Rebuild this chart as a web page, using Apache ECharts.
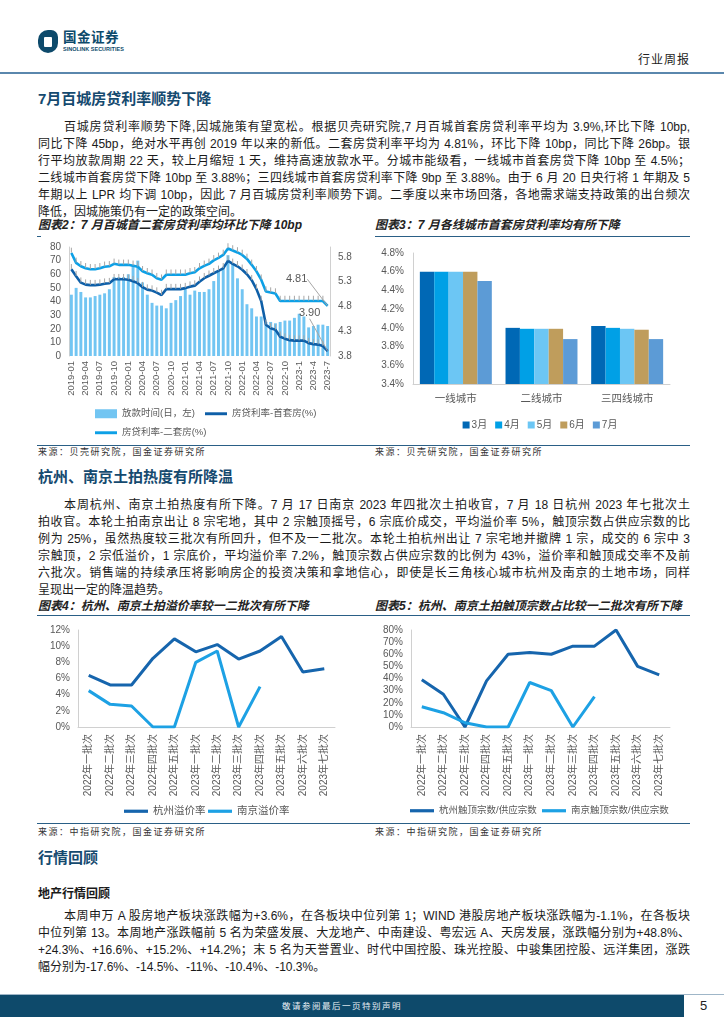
<!DOCTYPE html>
<html><head><meta charset="utf-8">
<script src="https://cdn.jsdelivr.net/npm/echarts@6/dist/echarts.min.js"></script>
<style>
body{margin:0;width:724px;height:1024px;position:relative;background:#fff;font-family:"Liberation Sans","Noto Sans CJK SC",sans-serif;overflow:hidden;color:#1a1a1a}
.a{position:absolute}
.p{position:absolute;left:38px;width:652px;font-size:12px;line-height:17px;height:17px;text-align:justify;text-align-last:justify;overflow:hidden}
.p.i{left:64px;width:626px}
.p.l{text-align-last:left}
.h{position:absolute;left:38px;font-size:15px;font-weight:bold;color:#154a6f;line-height:20px}
.ct{position:absolute;font-size:12px;font-style:italic;font-weight:bold;color:#222;line-height:14px;white-space:nowrap}
.src{position:absolute;font-size:9px;letter-spacing:1.5px;color:#333;line-height:11px;white-space:nowrap}
.ln{position:absolute;height:1px;background:#2a5f86}
.ch{position:absolute}
</style></head><body>
<!-- header -->
<div class="a" style="left:38px;top:30px;width:20px;height:23px;background:#0d4a6b;border-radius:10px 7px 10px 10px"></div>
<div class="a" style="left:44px;top:37px;width:8px;height:10px;background:#fff;border-radius:1px"></div>
<div class="a" style="left:63px;top:30px;font-size:13.5px;font-weight:bold;color:#0d4a6b;letter-spacing:0.5px;line-height:16px">国金证券</div>
<div class="a" style="left:63px;top:46px;font-size:5.5px;font-weight:bold;color:#0d4a6b;line-height:7px;white-space:nowrap">SINOLINK SECURITIES</div>
<div class="a" style="left:638px;top:53px;font-size:12px;color:#222;letter-spacing:1px;line-height:14px">行业周报</div>
<div class="a" style="left:0;top:72px;width:724px;height:2px;background:#5a87ad"></div>

<div class="h" style="top:89px">7月百城房贷利率顺势下降</div>
<div class="p i" style="top:119px">百城房贷利率顺势下降,因城施策有望宽松。根据贝壳研究院,7 月百城首套房贷利率平均为 3.9%,环比下降 10bp,</div>
<div class="p" style="top:136px">同比下降 45bp，绝对水平再创 2019 年以来的新低。二套房贷利率平均为 4.81%，环比下降 10bp，同比下降 26bp。银</div>
<div class="p" style="top:153px">行平均放款周期 22 天，较上月缩短 1 天，维持高速放款水平。分城市能级看，一线城市首套房贷下降 10bp 至 4.5%；</div>
<div class="p" style="top:170px">二线城市首套房贷下降 10bp 至 3.88%；三四线城市首套房贷利率下降 9bp 至 3.88%。由于 6 月 20 日央行将 1 年期及 5</div>
<div class="p" style="top:187px">年期以上 LPR 均下调 10bp，因此 7 月百城房贷利率顺势下调。二季度以来市场回落，各地需求端支持政策的出台频次</div>
<div class="p l" style="top:204px">降低，因城施策仍有一定的政策空间。</div>

<div class="ct" style="left:38px;top:218px">图表2：7 月百城首二套房贷利率均环比下降 10bp</div>
<div class="ct" style="left:375px;top:218px">图表3：7 月各线城市首套房贷利率均有所下降</div>
<div class="ln" style="left:37px;top:236px;width:4px"></div>
<div class="ln" style="left:375px;top:236px;width:315px"></div>
<div id="c2" class="ch" style="left:30px;top:240px;width:340px;height:200px"></div>
<div id="c3" class="ch" style="left:370px;top:240px;width:340px;height:200px"></div>
<div class="ln" style="left:37px;top:445px;width:653px"></div>
<div class="src" style="left:38px;top:447px">来源：贝壳研究院，国金证券研究所</div>
<div class="src" style="left:375px;top:447px">来源：贝壳研究院，国金证券研究所</div>

<div class="h" style="top:467px">杭州、南京土拍热度有所降温</div>
<div class="p i" style="top:497px">本周杭州、南京土拍热度有所下降。7 月 17 日南京 2023 年四批次土拍收官，7 月 18 日杭州 2023 年七批次土</div>
<div class="p" style="top:514px">拍收官。本轮土拍南京出让 8 宗宅地，其中 2 宗触顶摇号，6 宗底价成交，平均溢价率 5%，触顶宗数占供应宗数的比</div>
<div class="p" style="top:531px">例为 25%，虽然热度较三批次有所回升，但不及一二批次。本轮土拍杭州出让 7 宗宅地并撤牌 1 宗，成交的 6 宗中 3</div>
<div class="p" style="top:548px">宗触顶，2 宗低溢价，1 宗底价，平均溢价率 7.2%，触顶宗数占供应宗数的比例为 43%，溢价率和触顶成交率不及前</div>
<div class="p" style="top:565px">六批次。销售端的持续承压将影响房企的投资决策和拿地信心，即使是长三角核心城市杭州及南京的土地市场，同样</div>
<div class="p l" style="top:582px">呈现出一定的降温趋势。</div>

<div class="ct" style="left:38px;top:599px">图表4：杭州、南京土拍溢价率较一二批次有所下降</div>
<div class="ct" style="left:375px;top:599px">图表5：杭州、南京土拍触顶宗数占比较一二批次有所下降</div>
<div class="ln" style="left:37px;top:615px;width:653px"></div>
<div id="c4" class="ch" style="left:30px;top:618px;width:340px;height:202px"></div>
<div id="c5" class="ch" style="left:370px;top:618px;width:340px;height:202px"></div>
<div class="ln" style="left:37px;top:823px;width:653px"></div>
<div class="src" style="left:38px;top:827px">来源：中指研究院，国金证券研究所</div>
<div class="src" style="left:375px;top:827px">来源：中指研究院，国金证券研究所</div>

<div class="h" style="top:848px">行情回顾</div>
<div class="a" style="left:38px;top:886px;font-size:12px;font-weight:bold;line-height:16px">地产行情回顾</div>
<div class="p i" style="top:908px">本周申万 A 股房地产板块涨跌幅为+3.6%，在各板块中位列第 1；WIND 港股房地产板块涨跌幅为-1.1%，在各板块</div>
<div class="p" style="top:925px">中位列第 13。本周地产涨跌幅前 5 名为荣盛发展、大龙地产、中南建设、粤宏远 A、天房发展，涨跌幅分别为+48.8%、</div>
<div class="p" style="top:942px">+24.3%、+16.6%、+15.2%、+14.2%；末 5 名为天誉置业、时代中国控股、珠光控股、中骏集团控股、远洋集团，涨跌</div>
<div class="p l" style="top:959px">幅分别为-17.6%、-14.5%、-11%、-10.4%、-10.3%。</div>

<div class="a" style="left:0;top:994px;width:724px;height:1px;background:#9fb6c8"></div>
<div class="a" style="left:0;top:995px;width:684px;height:22px;background:#0e4a6b"></div>
<div class="a" style="left:0;top:1000px;width:684px;text-align:center;font-size:8.5px;letter-spacing:1.5px;color:#e8eef3;line-height:12px">敬请参阅最后一页特别声明</div>
<div class="a" style="left:700px;top:998px;font-size:13px;color:#222;line-height:16px">5</div>

<script>
// ---------- Chart 2 data ----------
var months = ["2019-01","2019-02","2019-03","2019-04","2019-05","2019-06","2019-07","2019-08","2019-09","2019-10","2019-11","2019-12",
"2020-01","2020-02","2020-03","2020-04","2020-05","2020-06","2020-07","2020-08","2020-09","2020-10","2020-11","2020-12",
"2021-01","2021-02","2021-03","2021-04","2021-05","2021-06","2021-07","2021-08","2021-09","2021-10","2021-11","2021-12",
"2022-01","2022-02","2022-03","2022-04","2022-05","2022-06","2022-07","2022-08","2022-09","2022-10","2022-11","2022-12",
"2023-1","2023-2","2023-3","2023-4","2023-5","2023-6","2023-7"];
var loanDays = [45,50,47,43,43,44,45,46,49,58,58,58,60,67,70,54,45,39,37,37,35,39,41,44,50,45,48,47,47,49,55,62,65,74,68,57,49,38,35,29,29,25,25,24,25,26,26,28,31,29,21,22,23,23,22];
var firstRate = [5.55,5.41,5.28,5.24,5.23,5.23,5.24,5.26,5.27,5.35,5.35,5.35,5.34,5.31,5.27,5.19,5.14,5.12,5.08,5.03,5.15,5.15,5.15,5.15,5.17,5.20,5.22,5.30,5.37,5.42,5.47,5.52,5.57,5.72,5.66,5.61,5.54,5.45,5.33,5.15,4.91,4.43,4.36,4.33,4.19,4.15,4.12,4.11,4.11,4.11,4.06,4.04,4.03,4.00,3.90];
var secondRate = [5.88,5.68,5.61,5.57,5.55,5.55,5.57,5.60,5.61,5.66,5.64,5.64,5.64,5.62,5.60,5.51,5.47,5.44,5.37,5.34,5.44,5.44,5.44,5.44,5.44,5.47,5.49,5.57,5.62,5.66,5.73,5.78,5.84,5.97,5.93,5.89,5.84,5.76,5.64,5.51,5.34,5.10,5.08,5.06,4.91,4.91,4.91,4.91,4.91,4.91,4.91,4.91,4.91,4.91,4.81];
var leftTicks = {min:0, max:80, interval:10};
var rightTicks = {min:3.8, max:6.0, interval:0.5};

// ---------- Chart 3 data ----------
var cityTiers = ["一线城市","二线城市","三四线城市"];
var monthNames = ["3月","4月","5月","6月","7月"];
var tierRates = [
  [4.60, 4.00, 4.02],
  [4.60, 3.99, 4.00],
  [4.60, 3.99, 3.99],
  [4.60, 3.99, 3.98],
  [4.50, 3.88, 3.88]
];

// ---------- Chart 4/5 data ----------
var batches = ["2022年一批次","2022年二批次","2022年三批次","2022年四批次","2022年五批次","2023年一批次","2023年二批次","2023年三批次","2023年四批次","2023年五批次","2023年六批次","2023年七批次"];
var hzPremium = [6.4,5.2,5.2,8.5,10.9,9.3,10.2,8.4,9.4,11.2,6.8,7.2];
var njPremium = [4.5,2.8,2.6,0,0,8.0,9.4,0,5.0,null,null,null];
var hzCapped = [39,27,0,38,60,61.5,60,66.7,66.7,80,50,43];
var njCapped = [16.7,11.8,3.5,0,0,36.7,30,0,25,null,null,null];

var FONT = "Liberation Sans, Noto Sans CJK SC, sans-serif";
var GRAY = "#595959";
var AXIS = {lineStyle:{color:"#d0d0d0"}};
var LINEICON = "path://M0,0 H30 V4 H0 Z";

function oneLegend(name, icon, left, top, w, h, fs){
  return {left:left, top:top, itemWidth:w, itemHeight:h, textStyle:{fontSize:fs,color:GRAY,fontFamily:FONT},
          data:[{name:name, icon:icon}]};
}

// Chart 2
var c2 = echarts.init(document.getElementById('c2'));
var last = months.length - 1;
function endLabel(dx, dy){
  return function(p){ return p.dataIndex === last ? {dx:dx, dy:dy} : {}; };
}
function endFmt(p){ return p.dataIndex === last ? Number(p.value).toFixed(2) : ""; }
c2.setOption({
  animation:false,
  textStyle:{fontFamily:FONT},
  grid:{left:39,right:40,top:7,bottom:84},
  legend:[
    oneLegend("放款时间(日，左)","rect",60,164,22,9,9.5),
    oneLegend("房贷利率-首套房(%)",LINEICON,170,164,22,9,9.5),
    oneLegend("房贷利率-二套房(%)",LINEICON,60,183,22,9,9.5)
  ],
  xAxis:{type:"category",data:months,axisLine:{show:false},axisTick:{show:false},
    axisLabel:{interval:2,rotate:90,fontSize:9.5,color:GRAY,margin:5,fontFamily:FONT}},
  yAxis:[
    {type:"value",min:leftTicks.min,max:leftTicks.max,interval:leftTicks.interval,splitLine:{show:false},
     axisLine:{show:true,lineStyle:{color:"#d0d0d0"}},axisLabel:{fontSize:10,color:GRAY,margin:8,fontFamily:FONT}},
    {type:"value",min:rightTicks.min,max:rightTicks.max,interval:rightTicks.interval,splitLine:{show:false},
     axisLine:{show:true,lineStyle:{color:"#d0d0d0"}},axisLabel:{fontSize:10,color:GRAY,margin:8,showMaxLabel:false,fontFamily:FONT,
     formatter:function(v){return v.toFixed(1);}}}
  ],
  series:[
    {name:"放款时间(日，左)",type:"bar",data:loanDays,barCategoryGap:"38%",itemStyle:{color:"#72c5f2"}},
    {name:"房贷利率-首套房(%)",type:"line",yAxisIndex:1,data:firstRate,symbol:"circle",symbolSize:0.5,showSymbol:true,
     lineStyle:{width:2.6,color:"#0e5fa8"},itemStyle:{color:"#0e5fa8"},z:3,
     label:{show:true,position:"top",fontSize:11,color:GRAY,fontFamily:FONT,formatter:endFmt},
     labelLayout:endLabel(-18,-27),labelLine:{show:true,lineStyle:{color:"#a6a6a6",width:1}}},
    {name:"房贷利率-二套房(%)",type:"line",yAxisIndex:1,data:secondRate,symbol:"circle",symbolSize:0.5,showSymbol:true,
     lineStyle:{width:2.6,color:"#0da0e6"},itemStyle:{color:"#0da0e6"},z:3,
     label:{show:true,position:"top",fontSize:11,color:GRAY,fontFamily:FONT,formatter:endFmt},
     labelLayout:endLabel(-31,-16),labelLine:{show:true,lineStyle:{color:"#a6a6a6",width:1}}}
  ]
});

// Chart 3
var c3 = echarts.init(document.getElementById('c3'));
var c3colors = ["#0068b5","#00a0e6","#6cc6f4","#bf9d5c","#5c9bd6"];
c3.setOption({
  animation:false,
  textStyle:{fontFamily:FONT},
  color:c3colors,
  grid:{left:43,right:40,top:13,bottom:56},
  legend:{top:175,left:"center",itemWidth:7,itemHeight:7,itemGap:8,icon:"rect",
    textStyle:{fontSize:10,color:GRAY,fontFamily:FONT,padding:[0,0,0,-3]},data:monthNames},
  xAxis:{type:"category",data:cityTiers,axisLine:AXIS,axisTick:{show:false},
    axisLabel:{fontSize:10.5,color:GRAY,margin:10,fontFamily:FONT}},
  yAxis:{type:"value",min:3.4,max:4.8,interval:0.2,splitLine:{show:false},axisLine:{show:true,lineStyle:{color:"#d0d0d0"}},
    axisLabel:{fontSize:10,color:GRAY,margin:9,fontFamily:FONT,formatter:function(v){return v.toFixed(1)+"%";}}},
  series:monthNames.map(function(m,i){
    return {name:m,type:"bar",data:tierRates[i],barGap:"0%",barCategoryGap:"16%"};
  })
});

// Chart 4 / 5
function lineChart(id, gridLeft, gridRight, leg1, leg2, fs, yMax, yInt, names, s1, s2){
  var c = echarts.init(document.getElementById(id));
  c.setOption({
    animation:false,
    textStyle:{fontFamily:FONT},
    grid:{left:gridLeft,right:gridRight,top:12,bottom:93},
    legend:[
      oneLegend(names[0],LINEICON,leg1,183,24,12,fs),
      oneLegend(names[1],LINEICON,leg2,183,24,12,fs)
    ],
    xAxis:{type:"category",data:batches,axisLine:AXIS,axisTick:{show:false},
      axisLabel:{interval:0,rotate:90,fontSize:10,color:GRAY,margin:7,fontFamily:FONT}},
    yAxis:{type:"value",min:0,max:yMax,interval:yInt,splitLine:{show:false},axisLine:{show:true,lineStyle:{color:"#d0d0d0"}},
      axisLabel:{fontSize:10,color:GRAY,margin:8,fontFamily:FONT,formatter:"{value}%"}},
    series:[
      {name:names[0],type:"line",data:s1,symbol:"none",lineStyle:{width:3,color:"#1665ad"},itemStyle:{color:"#1665ad"}},
      {name:names[1],type:"line",data:s2,symbol:"none",lineStyle:{width:3,color:"#1da1e4"},itemStyle:{color:"#1da1e4"}}
    ]
  });
}
lineChart('c4',48,35,89,173,10.5,12,2,["杭州溢价率","南京溢价率"],hzPremium,njPremium);
lineChart('c5',41,40,35,167,9.5,80,10,["杭州触顶宗数/供应宗数","南京触顶宗数/供应宗数"],hzCapped,njCapped);
</script>
</body></html>
